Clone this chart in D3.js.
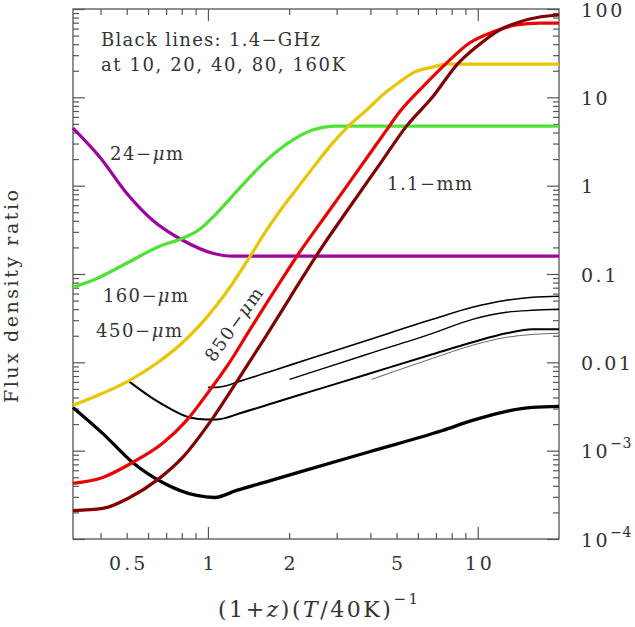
<!DOCTYPE html>
<html><head><meta charset="utf-8">
<script src="https://cdn.jsdelivr.net/npm/d3@7"></script>
<style>
body{margin:0;background:#fff}
svg{display:block}
text{font-family:"DejaVu Serif","Liberation Serif",serif;fill:#333}
</style>
</head><body>
<svg id="chart" width="635" height="627"></svg>
<script>
// ---------- data ----------
const x24um = [0.316,0.398,0.5,0.624,0.806,1.041,1.235,20];
const y24um = [4.49,2.10,0.822,0.406,0.241,0.172,0.159,0.159];

const x160um = [0.316,0.3745,0.5,0.6625,0.806,0.932,1.077,1.31,1.65,2.06,2.442,2.997,20];
const y160um = [0.0708,0.0849,0.1324,0.2063,0.254,0.3214,0.487,0.938,1.945,3.28,4.26,4.72,4.72];

const x450um = [0.316,0.4074,0.5129,0.6457,0.7855,0.932,1.077,1.235,1.427,1.65,1.891,2.186,2.527,2.897,3.348,3.871,4.436,5.129,5.83,6.795,7.657,20];
const y450um = [0.00326,0.00446,0.00625,0.00975,0.0156,0.0262,0.0443,0.0785,0.155,0.313,0.570,1.014,1.80,3.03,4.85,7.17,10.6,14.9,19.3,22.0,23.8,23.8];

const x850um = [0.316,0.4074,0.526,0.6796,0.834,1.015,1.203,1.427,1.65,1.891,2.149,2.823,3.646,4.59,5.129,6.241,7.657,9.318,11.34,13.91,16.93,20];
const y850um = [0.000426,0.000498,0.000736,0.00121,0.00220,0.00482,0.0100,0.0231,0.0467,0.0895,0.163,0.527,1.578,4.26,6.81,13.06,24.4,41.2,54.8,65.9,69.3,69.3];

const x1100um = [0.316,0.4074,0.5129,0.6457,0.806,1.041,1.288,1.622,2.007,2.527,3.348,4.362,5.444,6.795,8.41,9.975,12.03,14.27,16.93,20];
const y1100um = [0.000210,0.000222,0.000295,0.000461,0.000839,0.00232,0.00625,0.0187,0.0531,0.163,0.570,1.80,4.72,10.07,23.8,38.1,57.8,71.3,81.1,85.5];

const x10K = [0.316,0.4074,0.526,0.6796,0.908,1.059,1.277,1.692,2.38,3.972,7.40,9.559,12.77,15.95,20];
const y10K = [0.00309,0.00157,0.000736,0.000437,0.000311,0.000295,0.000355,0.000455,0.000618,0.000973,0.00169,0.00220,0.00279,0.00309,0.00317];

const x20K = [0.504,0.624,0.7213,0.8554,0.989,1.077,1.344,1.796,2.38,3.871,6.795,9.559,12.77,15.95,20];
const y20K = [0.00625,0.00391,0.00301,0.00238,0.00226,0.00226,0.00271,0.003558,0.004626,0.007288,0.01233,0.01686,0.0213,0.0237,0.0237];

const x40K = [1.0,1.077,1.344,1.796,2.38,3.871,6.795,9.559,12.77,15.95,20];
const y40K = [0.00521,0.00521,0.00625,0.008307,0.01096,0.01766,0.0307,0.0420,0.0505,0.0546,0.0560];

const x80K = [2.007,2.38,3.871,6.795,9.559,12.77,15.95,20];
const y80K = [0.00641,0.007585,0.01226,0.0213,0.0307,0.0369,0.0388,0.0399];

const x160K = [4.04,6.795,9.559,12.77,15.95,20];
const y160K = [0.00641,0.01109,0.0156,0.0192,0.0207,0.0213];

// tick values / labels
const xLabelTicks = [0.5,1,2,5,10];
const xMajorTicks = [1,10];
const xMinorTicks = [0.4,0.5,0.6,0.7,0.8,0.9,2,3,4,5,6,7,8,9];
const yMajorTicks = [1e-4,1e-3,1e-2,0.1,1,10,100];
const yTickLabels = ["10|−4","10|−3","0.01","0.1","1","10","100"];

// ---------- layout ----------
const L=73, R=559, T=9, B=539;
const svg = d3.select("#chart");
const x = d3.scaleLog().domain([Math.pow(10,-0.5),20]).range([L,R]);
const y = d3.scaleLog().domain([1e-4,100]).range([B,T]);

const yMinorTicks = [];
yMajorTicks.slice(0,-1).forEach(d=>{ for(let k=2;k<=9;k++) yMinorTicks.push(d*k); });

const axisColor = "#555";
function styleAxis(g){
  g.select(".domain").remove();
  g.selectAll("line").attr("stroke",axisColor).attr("stroke-width",1.2);
  g.selectAll("text").remove();
}
// ticks inside on all four sides
[[xMajorTicks,12],[xMinorTicks,6]].forEach(([vals,len])=>{
  svg.append("g").attr("transform",`translate(0,${B})`)
    .call(d3.axisBottom(x).tickValues(vals).tickSize(-len)).call(styleAxis);
  svg.append("g").attr("transform",`translate(0,${T})`)
    .call(d3.axisTop(x).tickValues(vals).tickSize(-len)).call(styleAxis);
});
[[yMajorTicks,12],[yMinorTicks,6]].forEach(([vals,len])=>{
  svg.append("g").attr("transform",`translate(${L},0)`)
    .call(d3.axisLeft(y).tickValues(vals).tickSize(-len)).call(styleAxis);
  svg.append("g").attr("transform",`translate(${R},0)`)
    .call(d3.axisRight(y).tickValues(vals).tickSize(-len)).call(styleAxis);
});

// frame
svg.append("rect").attr("x",L).attr("y",T).attr("width",R-L).attr("height",B-T)
  .attr("fill","none").attr("stroke",axisColor).attr("stroke-width",1.3);

// bottom tick labels
const gxl = svg.append("g").attr("transform",`translate(0,${B})`)
  .call(d3.axisBottom(x).tickValues(xLabelTicks).tickSize(0).tickFormat(d3.format("")));
gxl.select(".domain").remove();
gxl.selectAll("text").attr("y",31).attr("dy",0).attr("font-size",19)
  .attr("letter-spacing",3).attr("fill","#333").attr("dx",1.5)
  .style("font-family",'"DejaVu Serif",serif');

// right tick labels
const gyl = svg.append("g").attr("transform",`translate(${R},0)`)
  .call(d3.axisRight(y).tickValues(yMajorTicks).tickSize(0));
gyl.select(".domain").remove();
gyl.selectAll("text").each(function(d,i){
  const t = d3.select(this);
  t.text(null).attr("x",22).attr("dy",0).attr("y",7).attr("font-size",19)
   .attr("text-anchor","start").attr("fill","#333")
   .style("font-family",'"DejaVu Serif",serif');
  const parts = yTickLabels[i].split("|");
  t.append("tspan").attr("letter-spacing",2.5).text(parts[0]);
  if(parts[1]) t.append("tspan").attr("dy",-10).attr("font-size",14).attr("letter-spacing",0.5).text(parts[1]);
});

// ---------- curves ----------
const line = d3.line().x(d=>x(d[0])).y(d=>y(d[1])).curve(d3.curveMonotoneX);
const zip = (a,b)=>a.map((v,i)=>[v,b[i]]);
const plot = svg.append("g");
const series = [
  [x160K,y160K,"#666",1.0],
  [x80K,y80K,"#000",1.4],
  [x40K,y40K,"#000",1.6],
  [x20K,y20K,"#000",2.0],
  [x10K,y10K,"#000",3.3],
  [x24um,y24um,"#a000a0",3.2],
  [x160um,y160um,"#4de234",3.2],
  [x450um,y450um,"#e8c500",3.2],
  [x850um,y850um,"#ee0000",3.2],
  [x1100um,y1100um,"#820000",3.2]
];
series.forEach(([xs,ys,c,w])=>{
  plot.append("path").datum(zip(xs,ys)).attr("d",line)
    .attr("fill","none").attr("stroke",c).attr("stroke-width",w)
    .attr("stroke-linejoin","round").attr("stroke-linecap","butt");
});

// ---------- labels ----------
function fit(t,w){
  const n = t.text().length;
  const cur = t.node().getComputedTextLength();
  t.attr("letter-spacing",((w-cur)/Math.max(1,n-1)).toFixed(2));
}
function label(xp,yp,parts,w,size,rot){
  const t = svg.append("text").attr("font-size",size);
  if(rot!==undefined) t.attr("transform",`translate(${xp},${yp}) rotate(${rot})`);
  else t.attr("x",xp).attr("y",yp);
  parts.forEach(p=>{
    const s = t.append("tspan").text(p.t);
    if(p.i) s.attr("font-style","italic");
    if(p.dy) s.attr("dy",p.dy);
    if(p.fs) s.attr("font-size",p.fs);
  });
  fit(t,w);
  return t;
}
label(101,46,[{t:"Black lines: 1.4−GHz"}],219,18);
label(101,71,[{t:"at 10, 20, 40, 80, 160K"}],244,18);
label(110,160,[{t:"24−"},{t:"μ",i:1},{t:"m"}],73,18);
label(103,302,[{t:"160−"},{t:"μ",i:1},{t:"m"}],85,18);
label(96,337,[{t:"450−"},{t:"μ",i:1},{t:"m"}],86,18);
label(387,190,[{t:"1.1−mm"}],85,18);
label(214,363,[{t:"850−"},{t:"μ",i:1},{t:"m"}],86,18,-54.5);

// axis titles
label(218,617,[{t:"(1+"},{t:"z",i:1},{t:")("},{t:"T",i:1},{t:"/40K)"},{t:"−1",dy:-13,fs:15}],200,22);
label(18,403,[{t:"Flux density ratio"}],213,19,-90);
</script>
</body></html>
